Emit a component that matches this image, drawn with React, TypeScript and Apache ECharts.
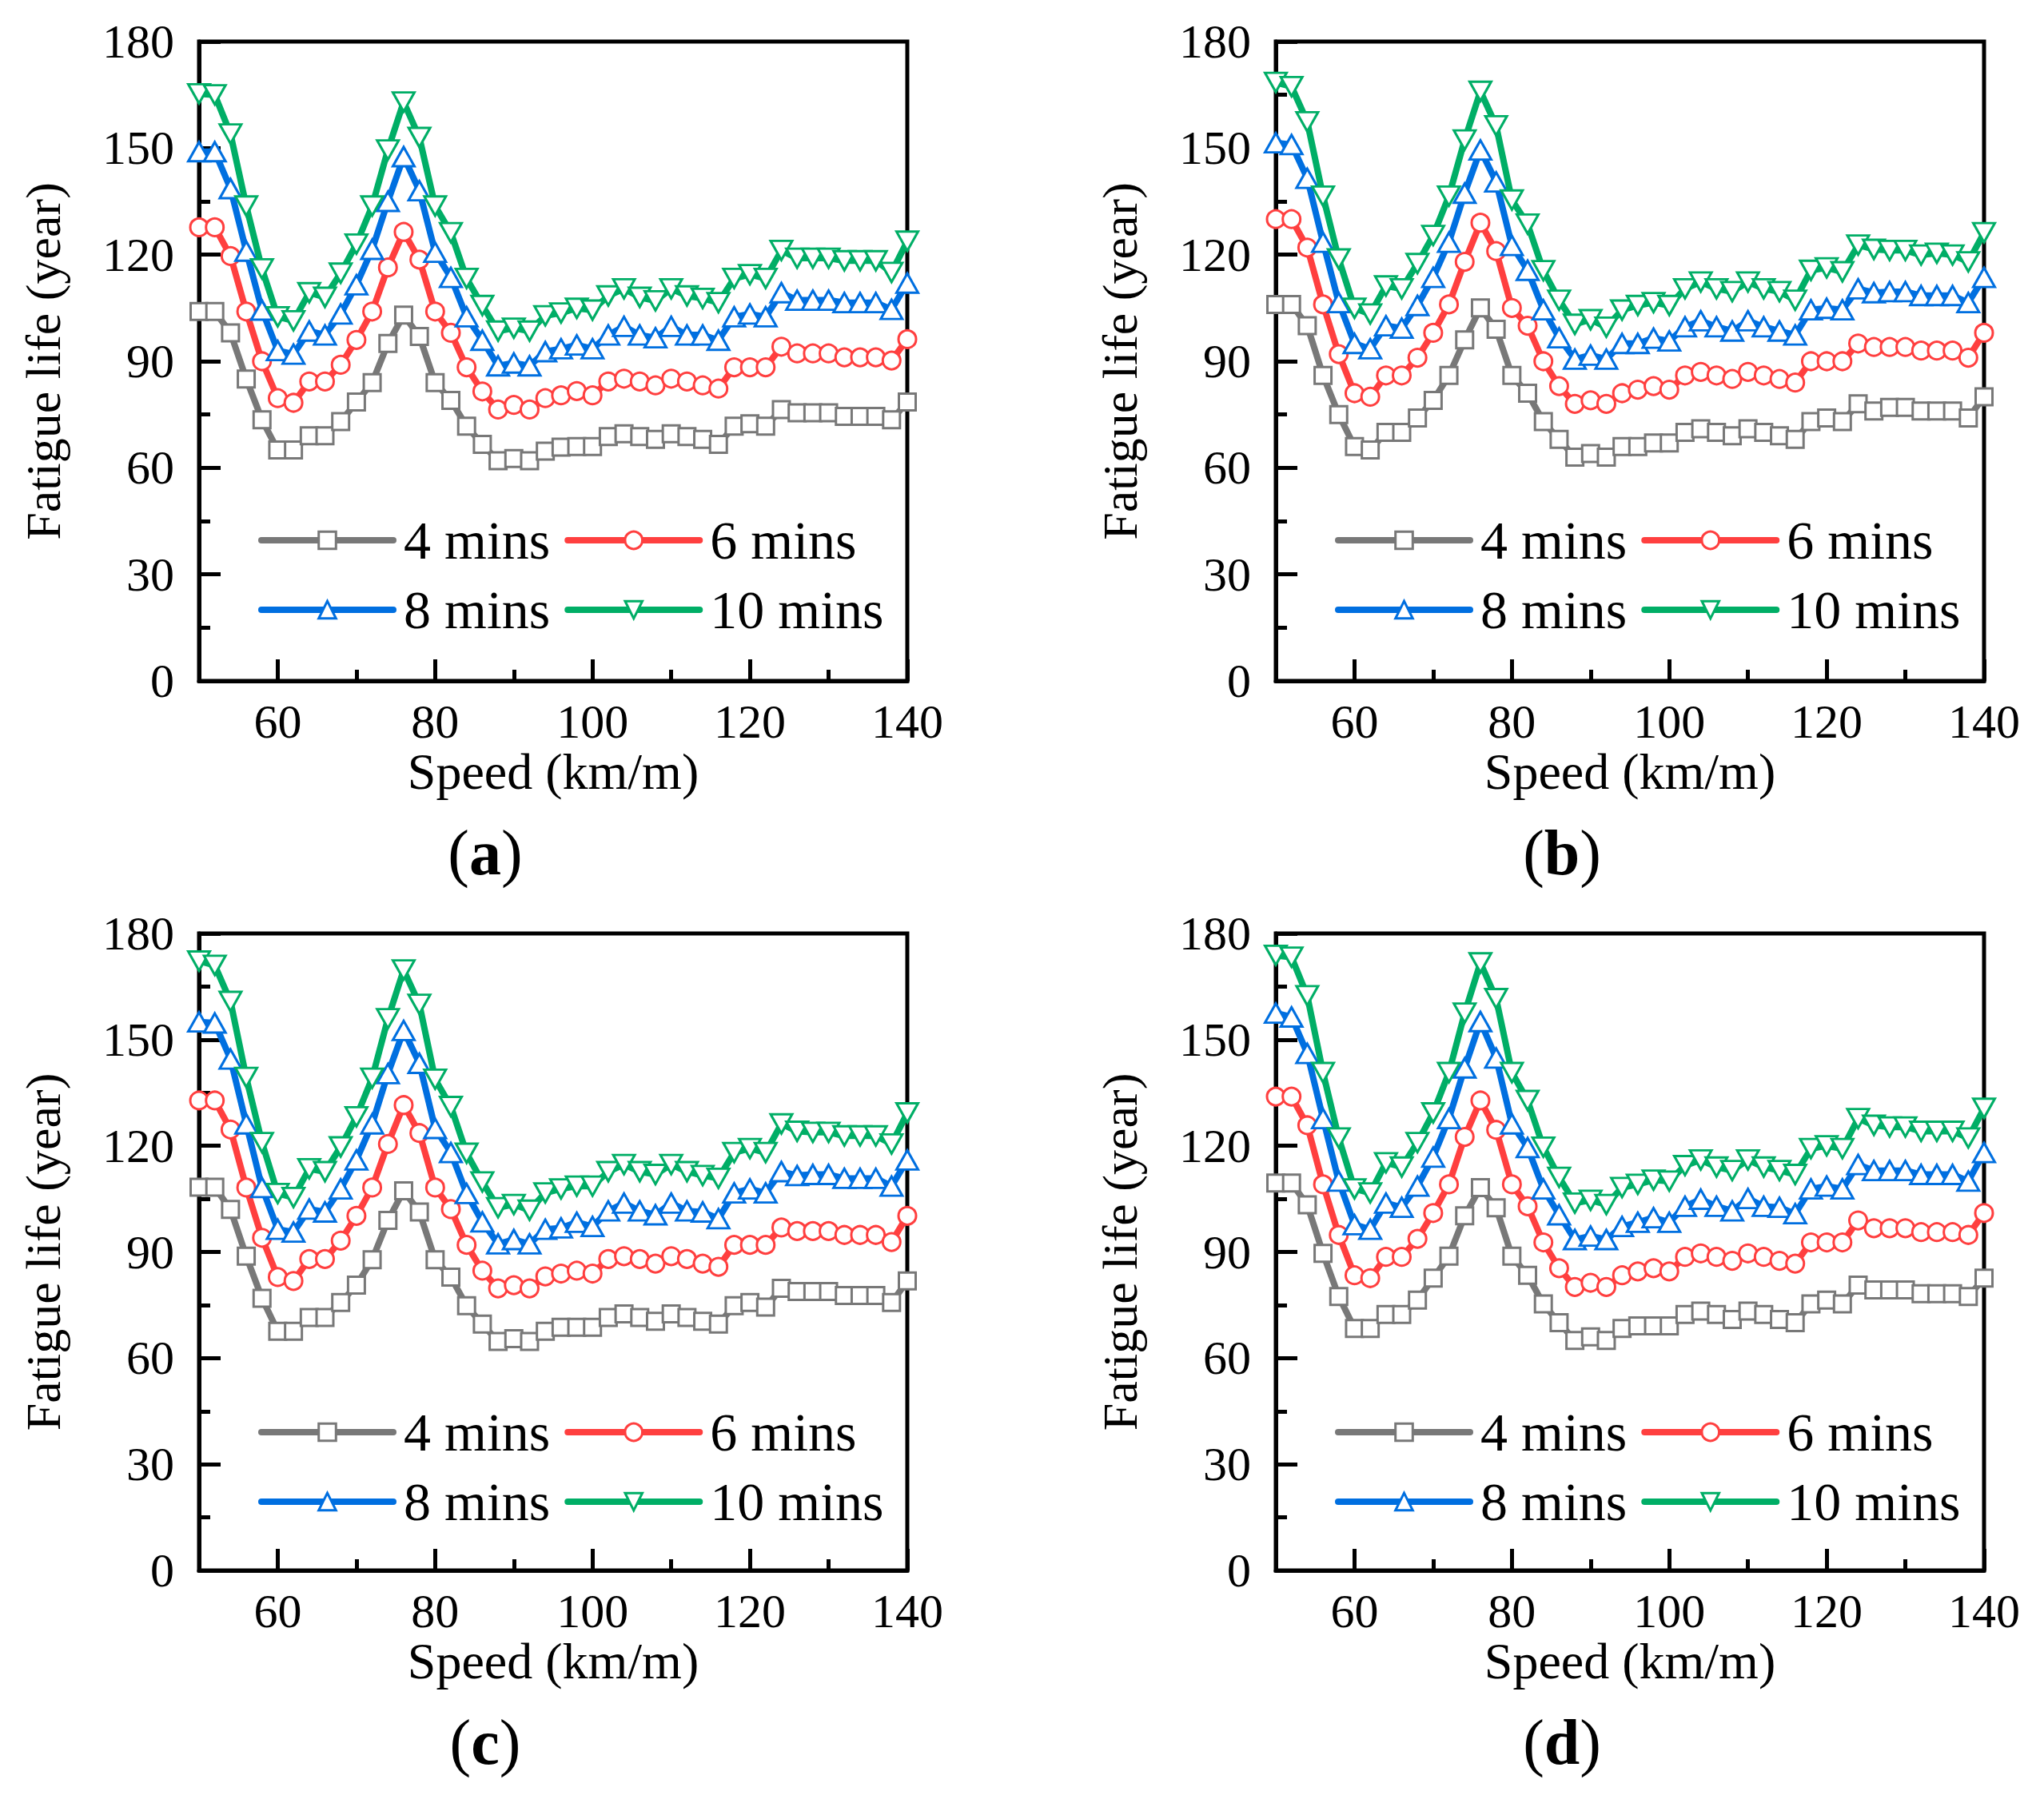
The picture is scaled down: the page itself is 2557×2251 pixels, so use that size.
import React, { useEffect, useRef } from "react";
import * as echarts from "echarts";

const speeds = [50, 52, 54, 56, 58, 60, 62, 64, 66, 68, 70, 72, 74, 76, 78, 80, 82, 84, 86, 88, 90, 92, 94, 96, 98, 100, 102, 104, 106, 108, 110, 112, 114, 116, 118, 120, 122, 124, 126, 128, 130, 132, 134, 136, 138, 140];
const xMajorTicks = [60, 80, 100, 120, 140];
const xMinorTicks = [70, 90, 110, 130];
const seriesNames = ["4 mins", "6 mins", "8 mins", "10 mins"];
const panelLabels = ["a", "b", "c", "d"];

// Panel (a)
const a4 = [104, 104, 98, 85, 73.5, 65, 65, 69, 69, 73, 78.5, 84, 95, 103, 97, 84, 79, 71.7, 66.6, 62, 62.6, 62, 64.7, 65.8, 66, 66, 68.8, 69.6, 68.8, 68, 69.6, 68.8, 68, 66.6, 71.7, 72.4, 71.7, 76.4, 75.5, 75.5, 75.5, 74.5, 74.5, 74.5, 73.5, 78.5];
const a6 = [127.7, 127.7, 119.6, 104, 90, 79.6, 78.3, 84.3, 84.3, 89, 96, 104, 116.4, 126.4, 118.6, 104, 98, 88.3, 81.5, 76.4, 77.7, 76.4, 79.6, 80.4, 81.6, 80.4, 84.3, 85.1, 84.3, 83.2, 85.1, 84.3, 83.2, 82.3, 88.3, 88.3, 88.3, 94.1, 92.2, 92.2, 92.2, 91.1, 91.1, 91.1, 90.2, 96.2];
const a8 = [149, 149, 138.6, 121, 104.4, 93, 92, 98.5, 97.4, 103.3, 111.5, 121.5, 135, 147.6, 138, 120.7, 113.6, 102.5, 95.9, 88.7, 89.5, 88.7, 92.7, 93.5, 94.6, 93.5, 97.4, 99.8, 97.4, 96.6, 99.8, 97.4, 97.4, 95.9, 102.5, 103.3, 102.5, 109.3, 107.2, 107.2, 107.2, 106.5, 106.5, 106.5, 104.6, 112];
const a10 = [165.3, 165, 154, 133.7, 116, 102.5, 101.4, 109.3, 108, 114.8, 123, 133.7, 149.5, 163, 153, 133.7, 126.2, 113.3, 105.7, 98.5, 99.3, 98.5, 102.8, 103.6, 104.9, 104.4, 108.4, 110.4, 108, 107, 110.4, 108.4, 107.7, 106.5, 113.3, 114.4, 113.3, 121.2, 119, 119, 119, 118.3, 118.3, 118.3, 115, 123.8];

// Panel (b)
const b4 = [106, 106, 100, 86, 75, 66, 65, 70, 70, 74, 79, 86, 96, 105, 99, 86, 81, 73, 68, 63, 64, 63, 66, 66, 67, 67, 70, 71, 70, 69, 71, 70, 69, 68, 73, 74, 73, 78, 76, 77, 77, 76, 76, 76, 74, 80];
const b6 = [130, 130, 122, 106, 92, 81, 80, 86, 86, 91, 98, 106, 118, 129, 121, 105, 100, 90, 83, 78, 79, 78, 81, 82, 83, 82, 86, 87, 86, 85, 87, 86, 85, 84, 90, 90, 90, 95, 94, 94, 94, 93, 93, 93, 91, 98];
const b8 = [151.5, 151, 141.5, 123.5, 106.5, 95, 93.5, 100, 99.3, 105.7, 113.6, 123.5, 137.3, 149.5, 140.5, 122.6, 115.6, 104.5, 96.6, 90.6, 91.7, 90.6, 95, 95, 96.5, 95.7, 99.7, 101.4, 99.7, 98.5, 101.4, 99.7, 98.5, 97.4, 104.5, 104.9, 104.5, 110.4, 109.3, 109.6, 109.6, 108.5, 108.5, 108.5, 106.5, 113.6];
const b10 = [168.5, 167.3, 157.4, 136.5, 118.8, 104.9, 103.3, 111.2, 110.4, 117.5, 125.4, 136.5, 152.3, 166, 156.3, 135.4, 128.6, 115.5, 107.2, 100.4, 101.7, 99.6, 104.4, 105.7, 106.5, 105.7, 110.4, 112.3, 110.4, 109.6, 112.3, 110.4, 109.6, 107.2, 115.6, 116.3, 115.2, 122.7, 121.5, 121.2, 121.2, 119.9, 120.4, 119.9, 118, 126.2];

// Panel (c)
const c4 = [108.3, 108.3, 102, 88.8, 76.9, 67.6, 67.6, 71.5, 71.5, 75.7, 80.6, 87.8, 98.9, 107.3, 101.3, 87.8, 82.9, 74.8, 69.6, 64.7, 65.5, 64.7, 67.6, 68.7, 68.7, 68.7, 71.5, 72.5, 71.5, 70.4, 72.5, 71.5, 70.4, 69.6, 74.8, 75.7, 74.4, 79.7, 78.8, 78.8, 78.8, 77.7, 77.7, 77.7, 75.7, 81.8];
const c6 = [132.8, 132.8, 124.6, 108.2, 94, 82.9, 81.8, 88, 88, 93.2, 100.2, 108.2, 120.5, 131.5, 123.6, 108.2, 102.1, 92, 84.7, 79.7, 80.6, 79.7, 83.1, 83.9, 84.7, 83.9, 88, 88.8, 88, 86.7, 88.8, 88, 86.7, 85.8, 92, 92, 92, 96.9, 95.9, 95.9, 95.9, 94.8, 94.8, 94.8, 92.8, 100.2];
const c8 = [155, 154.7, 144.5, 126.2, 108.2, 96.4, 95.6, 102.1, 101.3, 107.8, 116, 126.2, 140.4, 152.6, 143.3, 124.9, 118.1, 106.5, 98.5, 92.3, 93.5, 92.3, 96.4, 96.8, 98.4, 97.2, 101.6, 103.8, 101.6, 100.5, 103.8, 101.6, 101.3, 99.4, 106.7, 107.8, 106.7, 112.7, 111.6, 111.9, 111.9, 110.8, 110.8, 110.8, 108.6, 116];
const c10 = [172.2, 171, 160.8, 139.3, 120.9, 106.5, 105.4, 113.5, 112.7, 119.7, 128.2, 139.1, 155.9, 169.7, 160, 138.8, 131.1, 117.9, 109.8, 102.5, 103.4, 101.8, 106.7, 107.8, 108.6, 108.6, 112.7, 114.7, 112.7, 111.9, 114.7, 112.7, 111.6, 110.8, 118.1, 119.2, 118.1, 126.2, 124.1, 123.8, 123.8, 122.8, 122.8, 122.8, 120.5, 129.3];

// Panel (d)
const d4 = [109.5, 109.5, 103.3, 89.6, 77.4, 68.4, 68.4, 72.3, 72.3, 76.4, 82.6, 88.8, 100.2, 108.2, 102.5, 88.8, 83.4, 75.3, 70, 65, 66, 65, 68.4, 69.1, 69.1, 69.1, 72.3, 73.3, 72.3, 70.9, 73.3, 72.3, 70.9, 70, 75.3, 76.4, 75.3, 80.6, 79.3, 79.3, 79.3, 78.2, 78.2, 78.2, 77.4, 82.6];
const d6 = [133.9, 133.9, 125.8, 109.1, 94.8, 83.4, 82.6, 88.6, 88.6, 93.7, 101, 109.1, 122.5, 132.8, 124.5, 109.1, 102.9, 92.7, 85.4, 80.1, 81.3, 80.1, 83.4, 84.5, 85.4, 84.5, 88.6, 89.6, 88.6, 87.5, 89.6, 88.6, 87.5, 86.7, 92.7, 92.7, 92.7, 98.9, 96.7, 96.7, 96.7, 95.6, 95.6, 95.6, 94.8, 101];
const d8 = [157.5, 156.4, 146.1, 127.7, 110, 97.7, 96.4, 103.8, 102.6, 108.6, 116.8, 127.7, 142, 155.1, 144.8, 126.2, 119.5, 107.8, 100.5, 93.5, 94.5, 93.5, 97.2, 98.4, 99.7, 98.4, 102.9, 104.9, 102.9, 101.6, 105.1, 102.9, 102.6, 100.8, 107.8, 108.6, 107.8, 114.7, 113, 113, 113, 111.9, 111.9, 111.9, 110, 118.1];
const d10 = [173.8, 173.3, 162.4, 140.7, 122.2, 107.8, 106.7, 115.2, 114, 120.9, 129.3, 140.7, 157.5, 171.7, 161.6, 140.7, 132.8, 119.6, 111.1, 103.8, 104.6, 103.4, 108.2, 109.1, 110.3, 110, 114.4, 116, 114, 113, 116, 114, 113, 111.9, 119.2, 120, 119.2, 127.7, 125.8, 125.3, 125.3, 124.1, 124.1, 124.1, 122.2, 130.6];

const panelData = [
  [a4, a6, a8, a10],
  [b4, b6, b8, b10],
  [c4, c6, c8, c10],
  [d4, d6, d8, d10],
];

const FONT = '"Liberation Serif", "Times New Roman", Times, serif';
const COLORS = ["#787878", "#FF3F3F", "#006FE0", "#00AE66"];
const SYMBOLS = ["rect", "circle", "triangle", "triangle"];
const SYMBOL_SIZES: any[] = [21, 22, [27, 24], [27, 24]];
const SYMBOL_ROT = [0, 0, 0, 180];

const PANELS = [
  { left: 249, top: 52, width: 886, height: 800 },
  { left: 1596, top: 52, width: 886, height: 800 },
  { left: 249, top: 1168, width: 886, height: 797 },
  { left: 1596, top: 1168, width: 886, height: 797 },
];

function buildOption() {
  const grid: any[] = [];
  const xAxis: any[] = [];
  const yAxis: any[] = [];
  const series: any[] = [];
  const legend: any[] = [];
  const graphic: any[] = [];
  const tickLine = { color: "#000", width: 5 };

  PANELS.forEach((p, i) => {
    grid.push({
      left: p.left,
      top: p.top,
      width: p.width,
      height: p.height,
      show: true,
      borderColor: "#000",
      borderWidth: 5,
      backgroundColor: "transparent",
      containLabel: false,
    });
    xAxis.push({
      type: "value",
      gridIndex: i,
      min: 50,
      max: 140,
      position: "bottom",
      axisLine: { show: true, onZero: false, lineStyle: tickLine },
      axisTick: { show: true, inside: true, length: 27, lineStyle: tickLine, customValues: xMajorTicks },
      axisLabel: { show: true, customValues: xMajorTicks, fontSize: 60, color: "#000", fontFamily: FONT, margin: 21 },
      splitLine: { show: false },
      name: "Speed (km/m)",
      nameLocation: "middle",
      nameGap: 81,
      nameTextStyle: { fontSize: 64, color: "#000", fontFamily: FONT },
    });
    xAxis.push({
      type: "value",
      gridIndex: i,
      min: 50,
      max: 140,
      position: "bottom",
      axisLine: { show: false, onZero: false },
      axisTick: { show: true, inside: true, length: 14, lineStyle: tickLine, customValues: xMinorTicks },
      axisLabel: { show: false },
      splitLine: { show: false },
    });
    yAxis.push({
      type: "value",
      gridIndex: i,
      min: 0,
      max: 180,
      interval: 30,
      axisLine: { show: true, onZero: false, lineStyle: tickLine },
      axisTick: { show: true, inside: true, length: 27, lineStyle: tickLine },
      minorTick: { show: true, splitNumber: 2, length: 14, lineStyle: tickLine },
      axisLabel: { fontSize: 60, color: "#000", fontFamily: FONT, margin: 31 },
      splitLine: { show: false },
      minorSplitLine: { show: false },
      name: "Fatigue life (year)",
      nameLocation: "middle",
      nameGap: 164,
      nameTextStyle: { fontSize: 62, color: "#000", fontFamily: FONT },
    });

    panelData[i].forEach((vals, k) => {
      series.push({
        type: "line",
        name: seriesNames[k],
        xAxisIndex: i * 2,
        yAxisIndex: i,
        data: speeds.map((s, j) => [s, vals[j]]),
        symbol: SYMBOLS[k],
        symbolSize: SYMBOL_SIZES[k],
        symbolRotate: SYMBOL_ROT[k],
        showSymbol: true,
        showAllSymbol: true,
        lineStyle: { color: COLORS[k], width: 8, cap: "round", join: "round" },
        itemStyle: { color: "#fff", borderColor: COLORS[k], borderWidth: 3 },
        emphasis: { disabled: true },
        z: 2 + k,
      });
    });

    const rows = [
      { names: [seriesNames[0], seriesNames[1]], cy: p.top + 624 },
      { names: [seriesNames[2], seriesNames[3]], cy: p.top + 711 },
    ];
    rows.forEach((r) => {
      legend.push({
        show: true,
        orient: "horizontal",
        left: p.left + 74,
        top: r.cy - 34,
        padding: 0,
        itemWidth: 165,
        itemHeight: 27,
        itemGap: 18,
        selectedMode: false,
        data: r.names,
        lineStyle: { width: 8 },
        itemStyle: { borderWidth: 3 },
        textStyle: { fontSize: 68, lineHeight: 68, color: "#000", fontFamily: FONT, padding: [0, 0, 0, 8] },
      });
    });

    graphic.push({
      type: "text",
      x: p.left + 358,
      y: p.top + p.height + 215,
      style: {
        text: "({b|" + panelLabels[i] + "})",
        rich: { b: { fontWeight: "bold", fontSize: 80, fontFamily: FONT, fill: "#000" } },
        fontSize: 80,
        fontFamily: FONT,
        fill: "#000",
        align: "center",
        verticalAlign: "middle",
      },
    });
  });

  return {
    animation: false,
    backgroundColor: "#fff",
    textStyle: { fontFamily: FONT },
    grid,
    xAxis,
    yAxis,
    series,
    legend,
    graphic,
  };
}

export default function App() {
  const ref = useRef<HTMLDivElement>(null);
  useEffect(() => {
    document.body.style.margin = "0";
    if (!ref.current) return;
    const chart = echarts.init(ref.current, undefined, { renderer: "svg" });
    chart.setOption(buildOption() as any);
    return () => chart.dispose();
  }, []);
  return <div ref={ref} style={{ width: 2557, height: 2251, display: "block" }} />;
}
